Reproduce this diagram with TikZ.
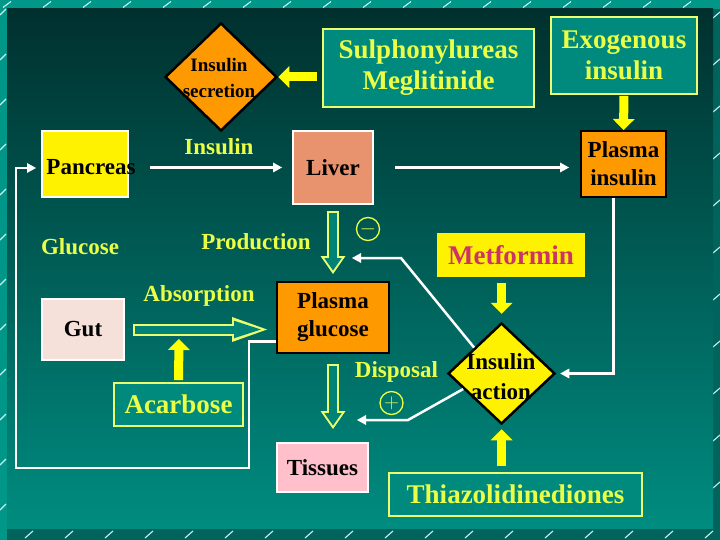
\documentclass[tikz,border=0pt]{standalone}
\usepackage{fontspec}
\setmainfont{Liberation Serif}
\usetikzlibrary{shapes.geometric}
\usetikzlibrary{arrows.meta}
\usetikzlibrary{calc}

\definecolor{bgtop}{RGB}{0,48,46}
\definecolor{bgbot}{RGB}{0,140,128}
\definecolor{frameteal}{RGB}{0,150,136}
\definecolor{framedark}{RGB}{0,100,92}
\definecolor{slashcol}{RGB}{200,240,240}
\definecolor{ylwtext}{RGB}{235,255,70}
\definecolor{ylwline}{RGB}{235,255,110}
\definecolor{ylwarrow}{RGB}{255,255,0}
\definecolor{boxteal}{RGB}{0,138,126}
\definecolor{orangefill}{RGB}{255,153,0}
\definecolor{liverfill}{RGB}{232,146,110}
\definecolor{gutfill}{RGB}{245,225,218}
\definecolor{tissuefill}{RGB}{255,192,203}
\definecolor{metcol}{RGB}{204,51,102}
\definecolor{arrowin}{RGB}{0,130,118}

\tikzset{
  tealbox/.style={rectangle, draw=ylwline, line width=1.8pt, fill=boxteal, text=ylwtext, align=center, inner sep=0pt, font=\fontsize{27}{31}\selectfont\bfseries},
  orangebox/.style={rectangle, draw=black, line width=2pt, fill=orangefill, align=center, inner sep=0pt, font=\fontsize{23}{28}\selectfont\bfseries},
  whitebox/.style={rectangle, draw=white, line width=2pt, align=center, inner sep=0pt, font=\fontsize{23}{28}\selectfont\bfseries},
  flowlbl/.style={text=ylwtext, inner sep=0pt, font=\fontsize{23}{28}\selectfont\bfseries},
  dmd/.style={diamond, draw=black, line width=2.5pt, inner sep=0pt},
  sign/.style={circle, draw=ylwtext, line width=1.3pt, minimum size=23pt, inner sep=0pt, text=ylwtext, font=\fontsize{20}{20}\selectfont},
  wline/.style={draw=white, line width=2.5pt, -{Triangle[length=9pt,width=10pt,line width=0pt]}},
  yarrow/.style={draw=ylwarrow, line width=9pt, -{Triangle[length=11pt,width=22pt,line width=0pt]}},
  hollowout/.style={draw=ylwline, line width=12pt, -{Triangle[length=#1,width=25pt,line width=0pt]}},
  hollowin/.style={draw=arrowin, line width=8pt, -{Triangle[length=#1,width=17.5pt,line width=0pt]}},
  slash/.style={draw=slashcol, line width=1.1pt}
}

\begin{document}
\begin{tikzpicture}[x=1pt,y=-1pt]
\useasboundingbox (0,0) rectangle (720,540);
\fill[frameteal] (0,0) rectangle (720,540);
\fill[framedark] (713,9) rectangle (720,540);
\fill[framedark] (7,528) rectangle (720,540);
\foreach \x in {3,43,...,703} \draw[slash] (\x,7.5) -- ++(8,-6);
\foreach \x in {25,65,...,705} \draw[slash] (\x,538) -- ++(8,-7);
\foreach \y in {12,57,...,530} \draw[slash] (0,\y+3) -- ++(6,-6);
\foreach \y in {15,62,...,530} \draw[slash] (713,\y+3) -- ++(7,-6);
\shade[top color=bgtop, bottom color=bgbot] (7,9) rectangle (713,528);

\node[dmd, fill=orangefill, minimum width=112pt, minimum height=108pt] (secr) at (221,77) {};
\node[align=center, inner sep=0pt, font=\fontsize{19}{26}\selectfont\bfseries] (secrtxt) at (219,78) {Insulin\\secretion};
\node[tealbox, minimum width=211pt, minimum height=78pt] (sulf) at (428.5,68) {Sulphonylureas\\Meglitinide};
\node[tealbox, minimum width=146pt, minimum height=77pt] (exo) at (624,55.5) {Exogenous\\insulin};
\node[orangebox, minimum width=85pt, minimum height=66pt] (pins) at (623.5,164) {Plasma\\insulin};
\node[whitebox, fill=yellow, minimum width=86pt, minimum height=66pt] (pan) at (85,164) {};
\node[inner sep=0pt, font=\fontsize{23}{28}\selectfont\bfseries] (pantxt) at (91,167.5) {Pancreas};
\node[whitebox, fill=liverfill, minimum width=80pt, minimum height=73pt] (liv) at (333,167.5) {Liver};
\node[rectangle, fill=yellow, text=metcol, minimum width=148pt, minimum height=44pt, inner sep=0pt, font=\fontsize{27}{31}\selectfont\bfseries] (met) at (511,255) {Metformin};
\node[orangebox, minimum width=112pt, minimum height=71pt] (pglu) at (333,317.5) {Plasma\\glucose};
\node[whitebox, fill=gutfill, minimum width=82pt, minimum height=61pt] (gut) at (83,329.5) {Gut};
\node[tealbox, minimum width=129pt, minimum height=43pt] (acarb) at (178.5,404.5) {Acarbose};
\node[whitebox, fill=tissuefill, minimum width=91pt, minimum height=49pt] (tis) at (322.5,467.5) {Tissues};
\node[tealbox, minimum width=253pt, minimum height=43pt] (thia) at (515.5,494.5) {Thiazolidinediones};
\node[dmd, fill=yellow, minimum width=107pt, minimum height=101pt] (iact) at (501.5,373.5) {};
\node[align=center, inner sep=0pt, font=\fontsize{23}{30}\selectfont\bfseries] (iacttxt) at (501,377) {Insulin\\action};

\node[flowlbl] (lins) at (219,147) {Insulin};
\node[flowlbl] (lglu) at (80,247) {Glucose};
\node[flowlbl] (lprod) at (256,241.5) {Production};
\node[flowlbl] (labs) at (199,296) {Absorption};
\node[flowlbl] (ldisp) at (396.5,372) {Disposal};
\node[sign] (minus) at (368,229) {$-$};
\node[sign] (plus) at (391.5,403) {$+$};

\coordinate (inhib) at (352,258);
\coordinate (dispend) at (357,420);
\coordinate (absarr) at (179,339);

\draw[yarrow, shorten <=5pt] (sulf.west |- secr.east) -- (secr.east);
\draw[yarrow, shorten <=1pt] (exo.south) -- (pins.north);
\draw[yarrow, shorten <=6pt, shorten >=8pt] (iact.north |- met.south) -- (iact.north);
\draw[yarrow, shorten <=6pt, shorten >=4pt] (iact.south |- thia.north) -- (iact.south);
\draw[yarrow, shorten <=2pt] (acarb.north) -- (absarr);

\draw[wline, shorten <=21pt, shorten >=10pt] (pan.east |- liv.west) -- (liv.west);
\draw[wline, shorten <=21pt, shorten >=11pt] (liv.east) -- (liv.east -| pins.west);
\draw[wline, shorten >=4pt] ([xshift=-10pt]pins.south) |- (iact.east);
\draw[wline] (iact.north west) -- (401,258) -- (inhib);
\draw[wline] ($(iact.west)!0.3!(iact.south)$) -- (408,420) -- (dispend);
\draw[wline, shorten >=5pt] ([yshift=-24pt]pglu.west) -- ++(-27,0) |- (16,468) |- ([yshift=-4pt]pan.west);

\draw[hollowout=18pt, shorten <=6pt, shorten >=7pt] (liv.south) -- (pglu.north);
\draw[hollowin=12.5pt, shorten <=8pt, shorten >=10.5pt] (liv.south) -- (pglu.north);
\draw[hollowout=35pt, shorten <=8pt, shorten >=9pt] (gut.east) -- (gut.east -| pglu.west);
\draw[hollowin=27pt, shorten <=10pt, shorten >=15pt] (gut.east) -- (gut.east -| pglu.west);
\draw[hollowout=18pt, shorten <=10pt, shorten >=13pt] (pglu.south) -- (pglu.south |- tis.north);
\draw[hollowin=12.5pt, shorten <=12pt, shorten >=16.5pt] (pglu.south) -- (pglu.south |- tis.north);

\end{tikzpicture}
\end{document}
